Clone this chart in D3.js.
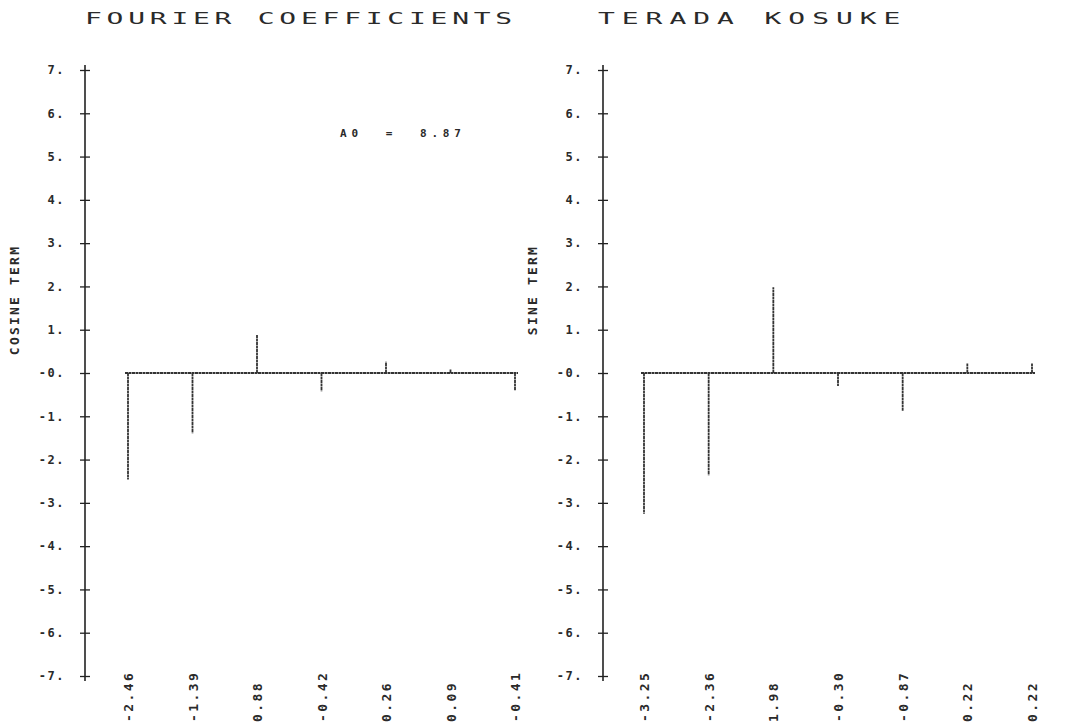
<!DOCTYPE html>
<html>
<head>
<meta charset="utf-8">
<script src="https://cdn.jsdelivr.net/npm/d3@7"></script>
<style>
  body { margin: 0; background: #fff; }
  svg { display: block; background: #fff; }
  text { font-family: "DejaVu Sans Mono", monospace; fill: #2a2a2a; white-space: pre; }
</style>
</head>
<body>
<svg id="chart" width="1065" height="728"></svg>
<script>
// ---- data ----
const titleLeft = "FOURIER COEFFICIENTS";
const titleRight = "TERADA KOSUKE";
const harmonics = [1, 2, 3, 4, 5, 6, 7];
const cosineValues = [-2.46, -1.39, 0.88, -0.42, 0.26, 0.09, -0.41];
const sineValues = [-3.25, -2.36, 1.98, -0.30, -0.87, 0.22, 0.22];
const cosineLabels = ["-2.46", "-1.39", "0.88", "-0.42", "0.26", "0.09", "-0.41"];
const sineLabels = ["-3.25", "-2.36", "1.98", "-0.30", "-0.87", "0.22", "0.22"];
const yTicks = [-7, -6, -5, -4, -3, -2, -1, 0, 1, 2, 3, 4, 5, 6, 7];
const a0Text = "A0  =  8.87";

const svg = d3.select("#chart");
const y = d3.scaleLinear().domain([-7, 7]).range([676, 70]);
const fmtTick = d => (d === 0 ? "-0." : d + ".");

// Titles (wide plotter lettering)
function wideText(x, yy, str, pitch) {
  const sx = 1.75, fs = 16;
  svg.append("text")
    .attr("transform", `translate(${x},${yy}) scale(${sx},1)`)
    .attr("font-size", fs)
    .attr("letter-spacing", pitch / sx - fs * 0.602)
    .attr("fill", "#555")
    .text(str);
}
wideText(85, 24, titleLeft, 21.6);
wideText(598, 24, titleRight, 23.8);

function panel(opts) {
  const { axisX, x0, x1, values, labels, axisTitle, titleY } = opts;
  const x = d3.scalePoint().domain(harmonics).range([x0, x1]);
  const g = svg.append("g");

  // y axis with cross ticks
  const ax = g.append("g")
    .attr("transform", `translate(${axisX},0)`)
    .call(d3.axisLeft(y).tickValues(yTicks).tickSize(5).tickSizeOuter(0)
      .tickPadding(15).tickFormat(fmtTick));
  ax.select(".domain").remove();
  ax.append("line").attr("x1", 0).attr("x2", 0)
    .attr("y1", y(7) - 5).attr("y2", y(-7) + 5)
    .attr("stroke", "#222").attr("stroke-width", 1.6);
  ax.selectAll(".tick line").attr("stroke", "#222").attr("stroke-width", 1.3);
  ax.selectAll(".tick").append("line")
    .attr("x1", 0).attr("x2", 5).attr("stroke", "#222").attr("stroke-width", 1.3);
  ax.selectAll(".tick text")
    .attr("font-family", "DejaVu Sans Mono, monospace")
    .attr("font-size", 12).attr("font-weight", "bold").attr("letter-spacing", 1.5)
    .attr("fill", "#333");

  // axis title
  g.append("text")
    .attr("transform", `translate(${axisX - 66},${titleY}) rotate(-90)`)
    .attr("text-anchor", "middle")
    .attr("font-size", 13).attr("font-weight", "bold").attr("letter-spacing", 2.2)
    .attr("fill", "#333")
    .text(axisTitle);

  // zero baseline (dotted plotter line)
  g.append("line")
    .attr("x1", x(harmonics[0]) - 3).attr("x2", x(harmonics[6]) + 3)
    .attr("y1", y(0)).attr("y2", y(0))
    .attr("stroke", "#333").attr("stroke-width", 1.8)
    .attr("stroke-dasharray", "3,0.5");

  // bars (vertical spikes)
  g.selectAll("line.bar").data(values).join("line")
    .attr("class", "bar")
    .attr("x1", (d, i) => x(harmonics[i])).attr("x2", (d, i) => x(harmonics[i]))
    .attr("y1", y(0)).attr("y2", d => y(d))
    .attr("stroke", "#333").attr("stroke-width", 1.8)
    .attr("stroke-dasharray", "3,0.5");

  // bottom value labels (rotated)
  g.selectAll("text.val").data(labels).join("text")
    .attr("class", "val")
    .attr("transform", (d, i) => `translate(${x(harmonics[i]) + 5},722) rotate(-90)`)
    .attr("font-size", 13).attr("font-weight", "bold").attr("letter-spacing", 2.4)
    .attr("fill", "#333")
    .text(d => d);
  return g;
}

panel({ axisX: 85, x0: 128, x1: 515, values: cosineValues, labels: cosineLabels,
        axisTitle: "COSINE TERM", titleY: 300 });
panel({ axisX: 603, x0: 644, x1: 1032, values: sineValues, labels: sineLabels,
        axisTitle: "SINE TERM", titleY: 290 });

// A0 annotation
svg.append("text")
  .attr("x", 340).attr("y", 137)
  .attr("font-size", 11).attr("font-weight", "bold").attr("letter-spacing", 4.8)
  .attr("fill", "#333")
  .text(a0Text);
</script>
</body>
</html>
